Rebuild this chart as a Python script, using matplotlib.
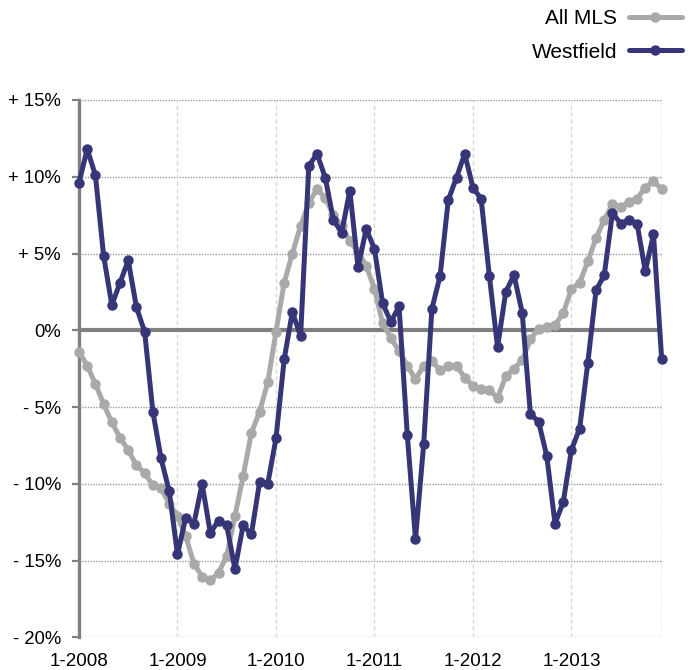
import matplotlib
matplotlib.use("Agg")
import matplotlib.pyplot as plt
import numpy as np

plt.rcParams['font.family'] = ['Liberation Sans', 'DejaVu Sans']

months = np.arange(72)  # 1-2008 .. 12-2013
tick_labels = ["1-2008", "1-2009", "1-2010", "1-2011", "1-2012", "1-2013"]
y_ticks = [15, 10, 5, 0, -5, -10, -15, -20]
y_labels = ["+ 15%", "+ 10%", "+ 5%", "0%", "- 5%", "- 10%", "- 15%", "- 20%"]

all_mls = [
    -1.4, -2.3, -3.5, -4.8, -6.0, -7.0, -7.8, -8.8, -9.3, -10.1, -10.3, -11.3,
    -12.1, -13.4, -15.2, -16.05, -16.3, -15.8, -14.7, -12.1, -9.5, -6.7, -5.3, -3.4,
    -0.1, 3.1, 5.0, 6.8, 8.3, 9.2, 8.6, 7.5, 6.8, 5.8, 5.1, 4.2,
    2.7, 0.45, -0.5, -1.35, -2.3, -3.2, -2.3, -2.0, -2.6, -2.3, -2.3, -3.1,
    -3.6, -3.8, -3.9, -4.4, -3.0, -2.5, -1.95, -0.6, 0.1, 0.2, 0.35, 1.1,
    2.7, 3.1, 4.5, 6.0, 7.2, 8.2, 8.0, 8.35, 8.57, 9.3, 9.7, 9.2,
]

westfield = [
    9.6, 11.8, 10.1, 4.85, 1.65, 3.1, 4.55, 1.5, -0.1, -5.3, -8.35, -10.5,
    -14.6, -12.2, -12.6, -10.0, -13.2, -12.4, -12.7, -15.55, -12.7, -13.3, -9.9, -10.0,
    -7.05, -1.9, 1.2, -0.4, 10.7, 11.5, 9.95, 7.2, 6.35, 9.1, 4.1, 6.6,
    5.3, 1.75, 0.55, 1.55, -6.8, -13.6, -7.4, 1.4, 3.55, 8.5, 9.95, 11.5,
    9.3, 8.55, 3.55, -1.1, 2.5, 3.6, 1.15, -5.45, -5.95, -8.2, -12.6, -11.2,
    -7.8, -6.4, -2.1, 2.6, 3.6, 7.63, 6.95, 7.2, 6.95, 3.85, 6.25, -1.9,
]

GRAY = "#a9a9a9"
NAVY = "#363577"
AXGRAY = "#808080"

fig = plt.figure(figsize=(6.91, 6.70), dpi=100)
ax = fig.add_axes([79/691, 1-637.3/670, (661.7-79)/691, (637.3-100)/670])

ax.plot(months, all_mls, color=GRAY, lw=3.6, marker='o', ms=6.5,
        solid_capstyle='round', solid_joinstyle='round', clip_on=False,
        zorder=3, label="All MLS")
ax.plot(months, westfield, color=NAVY, lw=3.6, marker='o', ms=6.5,
        solid_capstyle='round', solid_joinstyle='round', clip_on=False,
        zorder=4, label="Westfield")

ax.set_xlim(0, 71)
ax.set_ylim(-20, 15)

ax.set_xticks(np.arange(0, 72, 12))
ax.set_xticklabels(tick_labels)
ax.set_yticks(y_ticks)
ax.set_yticklabels(y_labels)

ax.tick_params(axis='x', length=0, pad=11, labelsize=13.5, labelcolor='black')
ax.tick_params(axis='y', length=5, width=1.6, color=AXGRAY, pad=8,
               labelsize=13.3, direction='out', labelcolor='black')

# grid lines
for y in y_ticks:
    if y == 0:
        continue
    ax.axhline(y, color="#999999", lw=1.0, ls=(0, (1, 1)), zorder=1)
for x in np.arange(12, 72, 12):
    ax.axvline(x, color="#d8d8d8", lw=1.0, ls=(0, (3, 2)), zorder=1)
ax.axvline(71, color="#999999", lw=1.0, ls=(0, (1, 1)), zorder=1)
ax.axhline(0, color=AXGRAY, lw=3.0, zorder=2)

for s in ['top', 'right', 'bottom']:
    ax.spines[s].set_visible(False)
ax.spines['left'].set_color(AXGRAY)
ax.spines['left'].set_linewidth(2.4)
ax.spines['left'].set_zorder(2)

leg = fig.legend(loc='upper right', bbox_to_anchor=(1.0, 1.0),
                 bbox_transform=fig.transFigure, frameon=False,
                 markerfirst=False, fontsize=15, handlelength=2.55,
                 handletextpad=0.55, labelspacing=0.68, borderpad=0.45,
                 borderaxespad=0.0, numpoints=1)

fig.savefig("out.png", dpi=100)
